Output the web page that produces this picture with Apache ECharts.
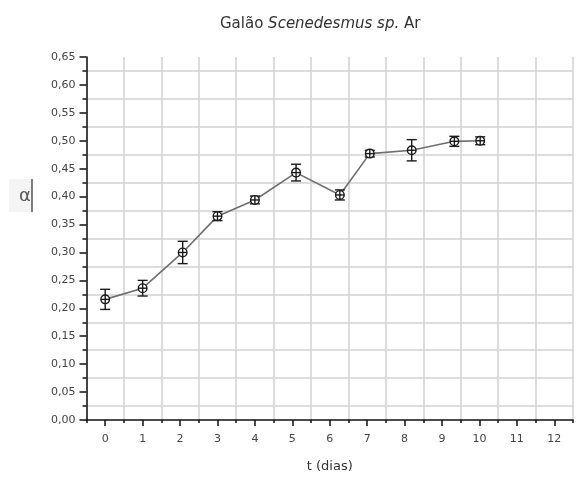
<!DOCTYPE html>
<html><head><meta charset="utf-8">
<script src="https://cdn.jsdelivr.net/npm/echarts@6/dist/echarts.min.js"></script>
<style>html,body{margin:0;padding:0;background:#fff}#c{width:576px;height:478px}</style>
</head><body><div id="c"></div>
<script>
// ---- data ----
const titleMain = 'Galão ';
const titleItalic = 'Scenedesmus sp.';
const titleTail = ' Ar';
const xName = 't (dias)';
const yName = 'α';
const days = [0, 1, 2.07, 3, 4, 5.1, 6.27, 7.07, 8.19, 9.33, 10.02];
const alphaVals = [0.216, 0.236, 0.300, 0.365, 0.394, 0.443, 0.403, 0.477, 0.483, 0.499, 0.500];
const alphaErr = [0.018, 0.014, 0.020, 0.008, 0.007, 0.015, 0.009, 0.006, 0.019, 0.009, 0.007];
const xMin = -0.5, xMax = 12.5;
const yMin = 0, yMax = 0.65, yStep = 0.05;

const FONT = 'DejaVu Sans';
const chart = echarts.init(document.getElementById('c'), null, {renderer: 'canvas'});

const points = days.map((d, i) => [d, alphaVals[i], alphaErr[i]]);

function renderItem(params, api) {
  const x = api.value(0), y = api.value(1), e = api.value(2);
  const c = api.coord([x, y]);
  const t = api.coord([x, y + e]);
  const b = api.coord([x, y - e]);
  const hw = 5, r = 4.3;
  const st = {stroke: '#1a1a1a', lineWidth: 1.4};
  return {type: 'group', children: [
    {type: 'line', shape: {x1: c[0], y1: t[1], x2: c[0], y2: b[1]}, style: st},
    {type: 'line', shape: {x1: c[0] - hw, y1: t[1], x2: c[0] + hw, y2: t[1]}, style: st},
    {type: 'line', shape: {x1: c[0] - hw, y1: b[1], x2: c[0] + hw, y2: b[1]}, style: st},
    {type: 'circle', shape: {cx: c[0], cy: c[1], r: r}, style: {fill: '#fff', stroke: '#1a1a1a', lineWidth: 1.4}},
    {type: 'line', shape: {x1: c[0] - r, y1: c[1], x2: c[0] + r, y2: c[1]}, style: st},
    {type: 'line', shape: {x1: c[0], y1: c[1] - r, x2: c[0], y2: c[1] + r}, style: st}
  ]};
}

const gridColor = '#d2d2d2';
const option = {
  animation: false,
  backgroundColor: '#fff',
  textStyle: {fontFamily: FONT},
  title: {
    text: '{n|' + titleMain + '}{i|' + titleItalic + '}{n|' + titleTail + '}',
    left: 215, top: 12,
    textStyle: {
      fontWeight: 'normal',
      rich: {
        n: {fontFamily: FONT, fontSize: 15, color: '#333', fontWeight: 'normal'},
        i: {fontFamily: FONT, fontSize: 15, color: '#333', fontStyle: 'italic', fontWeight: 'normal'}
      }
    }
  },
  grid: {left: 86.5, right: -7, top: 57, bottom: 52.3, containLabel: false},
  xAxis: [
    {
      type: 'value', min: xMin, max: xMax, interval: 1, position: 'bottom',
      axisLine: {show: true, onZero: false, lineStyle: {color: '#111', width: 1.5}},
      axisTick: {show: true, length: 3, lineStyle: {color: '#111', width: 1.5}},
      minorTick: {show: true, splitNumber: 2, length: 6, lineStyle: {color: '#111', width: 1.5}},
      splitLine: {show: true, lineStyle: {color: gridColor, width: 1.5}},
      axisLabel: {show: false}
    },
    {
      type: 'value', min: xMin, max: xMax, interval: 0.5, position: 'bottom', offset: 0,
      axisLine: {show: false}, axisTick: {show: false}, splitLine: {show: false},
      axisLabel: {
        show: true, margin: 14, color: '#444', fontFamily: FONT, fontSize: 11,
        formatter: v => Math.abs(v - Math.round(v)) < 1e-6 ? String(Math.round(v)) : ''
      },
      name: xName, nameLocation: 'middle', nameGap: 40,
      nameTextStyle: {color: '#333', fontFamily: FONT, fontSize: 13}
    }
  ],
  yAxis: {
    type: 'value', min: yMin, max: yMax, interval: yStep,
    axisLine: {show: true, onZero: false, lineStyle: {color: '#111', width: 1.5}},
    axisTick: {show: true, length: 7, lineStyle: {color: '#111', width: 1.5}},
    minorTick: {show: true, splitNumber: 2, length: 4, lineStyle: {color: '#111', width: 1.5}},
    splitLine: {show: false},
    minorSplitLine: {show: true, lineStyle: {color: gridColor, width: 1.5}},
    axisLabel: {
      margin: 11, color: '#444', fontFamily: FONT, fontSize: 11,
      formatter: v => v.toFixed(2).replace('.', ',')
    }
  },
  graphic: [
    {type: 'rect', shape: {x: 9, y: 179, width: 23, height: 33}, style: {fill: '#f4f4f4'}, z: 1},
    {type: 'text', x: 25, y: 196, style: {text: yName, fontFamily: FONT, fontSize: 18, fill: '#555', align: 'center', verticalAlign: 'middle'}, z: 2},
    {type: 'line', shape: {x1: 32, y1: 179, x2: 32, y2: 212}, style: {stroke: '#555', lineWidth: 1.5}, z: 2}
  ],
  series: [
    {
      type: 'line', xAxisIndex: 0, yAxisIndex: 0,
      data: points.map(p => [p[0], p[1]]),
      showSymbol: false, symbol: 'none',
      lineStyle: {color: '#6e6e6e', width: 1.6},
      z: 3
    },
    {
      type: 'custom', xAxisIndex: 0, yAxisIndex: 0,
      data: points, renderItem: renderItem, z: 4,
      encode: {x: 0, y: 1}
    }
  ]
};
chart.setOption(option);
</script>
</body></html>
